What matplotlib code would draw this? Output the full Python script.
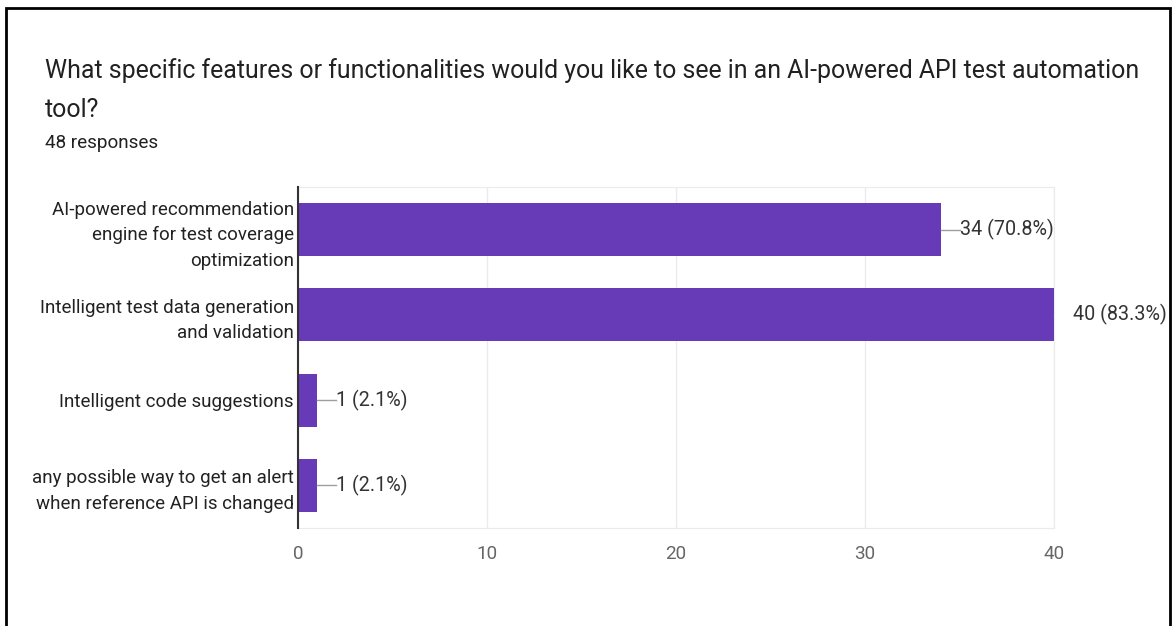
import matplotlib.pyplot as plt
from matplotlib.patches import Rectangle

plt.rcParams['font.family'] = ['Roboto', 'DejaVu Sans']

title = "What specific features or functionalities would you like to see in an AI-powered API test automation\ntool?"
subtitle = "48 responses"
categories = [
    "AI-powered recommendation\nengine for test coverage\noptimization",
    "Intelligent test data generation\nand validation",
    "Intelligent code suggestions",
    "any possible way to get an alert\nwhen reference API is changed",
]
counts = [34, 40, 1, 1]
total = 48
xticks = [0, 10, 20, 30, 40]

W, H = 1176, 626
fig = plt.figure(figsize=(W / 100, H / 100), dpi=100)

# outer frame of the screenshot
fig.patches.append(Rectangle((6 / W, -0.05), (1170 - 6) / W, (H - 8) / H + 0.05,
                             transform=fig.transFigure, fill=False,
                             edgecolor='black', linewidth=2))

fig.text(45 / W, 1 - 117 / H, title, fontsize=17.9, color='#212121',
         va='baseline', ha='left', linespacing=1.78)
fig.text(45 / W, 1 - 148 / H, subtitle, fontsize=13.6, color='#212121',
         va='baseline', ha='left')

ax = fig.add_axes([298 / W, 98 / H, (1054 - 298) / W, (528 - 187) / H])
ypos = list(range(len(categories)))
ax.barh(ypos, counts, height=0.62, color='#673ab7', zorder=3)
ax.set_xlim(0, 40)
ax.set_ylim(len(categories) - 0.5, -0.5)
ax.set_yticks(ypos)
ax.set_yticklabels(categories, fontsize=13.5, color='#222222', linespacing=1.52)
ax.set_xticks(xticks)
ax.set_xticklabels([str(t) for t in xticks], fontsize=13.6, color='#666666')
ax.tick_params(axis='both', length=0)
ax.tick_params(axis='x', pad=12)
ax.tick_params(axis='y', pad=3)
ax.grid(axis='x', color='#ebebeb', linewidth=1, zorder=0)

for side in ['top', 'right', 'bottom']:
    ax.spines[side].set_color('#ebebeb')
ax.spines['left'].set_color('#333333')
ax.spines['left'].set_linewidth(1.5)
ax.spines['left'].set_zorder(4)

for y, c in zip(ypos, counts):
    ax.plot([c, c + 1.0], [y, y], color='#9e9e9e', linewidth=1, zorder=4)
    ax.text(c + 1.0, y, f"{c} ({c / total * 100:.1f}%)", fontsize=14.2,
            color='#333333', va='center', ha='left', clip_on=False)

fig.savefig('out.png', dpi=100)
